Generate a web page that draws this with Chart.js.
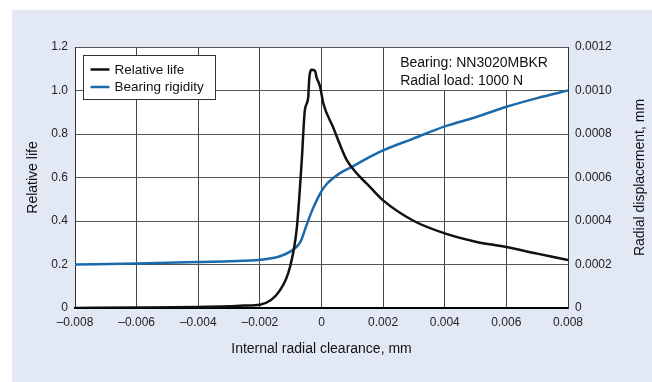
<!DOCTYPE html>
<html><head><meta charset="utf-8">
<script src="https://cdn.jsdelivr.net/npm/chart.js@4/dist/chart.umd.min.js"></script>
<style>html,body{margin:0;padding:0;background:#fff;overflow:hidden;}</style>
</head><body>
<canvas id="c" width="652" height="382"></canvas>
<script>
// ---- data ----
const lifeX = [-0.008, -0.006, -0.004, -0.003, -0.0025, -0.002, -0.00135, -0.00102, -0.0008, -0.00064, -0.00054, -0.00043, -0.0004, -0.00032, -0.00021, -0.00016, -0.00005, 0.00006, 0.00038, 0.00066, 0.00082, 0.00114, 0.00157, 0.002, 0.003, 0.004, 0.005, 0.006, 0.007, 0.008];
const lifeY = [0.0, 0.002, 0.005, 0.008, 0.011, 0.015, 0.081, 0.19, 0.37, 0.68, 0.91, 0.97, 1.05, 1.095, 1.09, 1.06, 1.02, 0.94, 0.83, 0.73, 0.68, 0.62, 0.557, 0.495, 0.40, 0.343, 0.305, 0.28, 0.25, 0.22];
const rigidityX = [-0.008, -0.006, -0.004, -0.003, -0.002, -0.00135, -0.00086, -0.00068, -0.0005, -0.0003, -0.00012, 0.0, 0.00017, 0.0006, 0.001, 0.00157, 0.002, 0.003, 0.004, 0.005, 0.006, 0.007, 0.008];
const rigidityY = [0.000200, 0.000205, 0.000211, 0.000215, 0.000222, 0.000238, 0.000275, 0.000305, 0.000375, 0.00045, 0.000505, 0.000537, 0.00057, 0.00062, 0.00065, 0.000695, 0.000725, 0.00078, 0.000835, 0.000877, 0.000925, 0.000965, 0.0010];
const seriesNames = ['Relative life', 'Bearing rigidity'];
const xTickLabels = ['\u20130.008', '\u20130.006', '\u20130.004', '\u20130.002', '0', '0.002', '0.004', '0.006', '0.008'];
const leftTickLabels = ['0', '0.2', '0.4', '0.6', '0.8', '1.0', '1.2'];
const rightTickLabels = ['0', '0.0002', '0.0004', '0.0006', '0.0008', '0.0010', '0.0012'];
const xTitle = 'Internal radial clearance, mm';
const leftTitle = 'Relative life';
const rightTitle = 'Radial displacement, mm';
const noteLines = ['Bearing: NN3020MBKR', 'Radial load: 1000 N'];

const FONT = '"Liberation Sans", Arial, Helvetica, sans-serif';
Chart.defaults.font.family = FONT;
Chart.defaults.color = '#222';

const bgPlugin = {
  id: 'bg',
  beforeDraw(chart) {
    const {ctx, chartArea: a} = chart;
    ctx.save();
    ctx.fillStyle = '#ffffff';
    ctx.fillRect(0, 0, chart.width, chart.height);
    ctx.fillStyle = '#e2e9f5';
    ctx.fillRect(12, 10, chart.width - 12, chart.height - 10);
    ctx.fillStyle = '#ffffff';
    ctx.fillRect(a.left, a.top, a.right - a.left, a.bottom - a.top);
    ctx.restore();
  }
};

const boxPlugin = {
  id: 'boxes',
  beforeDatasetsDraw(chart) {
    const {ctx, chartArea: a} = chart;
    const x = chart.scales.x, y = chart.scales.y;
    const x0 = x.getPixelForValue(0.002);
    const y1 = y.getPixelForValue(1.0);
    ctx.save();
    // note cell (hides the grid above 1.0 right of 0.002)
    ctx.fillStyle = '#ffffff';
    ctx.fillRect(x0 + 1, a.top + 1, a.right - x0 - 2, y1 - a.top - 1.5);
    ctx.fillStyle = '#111';
    ctx.font = '14px ' + FONT;
    ctx.textBaseline = 'middle';
    ctx.textAlign = 'left';
    noteLines.forEach((t, i) => ctx.fillText(t, x0 + 17, a.top + 16 + i * 18));
    // legend box
    const lx = Math.round(a.left + 8) + 0.5, ly = Math.round(a.top + 8) + 0.5, lw = 132, lh = 44;
    ctx.fillStyle = '#ffffff';
    ctx.fillRect(lx, ly, lw, lh);
    ctx.strokeStyle = '#333';
    ctx.lineWidth = 1;
    ctx.strokeRect(lx, ly, lw, lh);
    chart.data.datasets.forEach((ds, i) => {
      const yy = ly + 14 + i * 17.5;
      ctx.strokeStyle = ds.borderColor;
      ctx.lineWidth = 2.5;
      ctx.beginPath();
      ctx.moveTo(lx + 7, yy);
      ctx.lineTo(lx + 26, yy);
      ctx.stroke();
      ctx.fillStyle = '#111';
      ctx.font = '13.5px ' + FONT;
      ctx.fillText(ds.label, lx + 31, yy + 0.5);
    });
    ctx.restore();
  },
  afterDraw(chart) {
    // right axis title, reading bottom-to-top as in the reference
    const {ctx, chartArea: a} = chart;
    ctx.save();
    ctx.translate(640, (a.top + a.bottom) / 2);
    ctx.rotate(-Math.PI / 2);
    ctx.fillStyle = '#111';
    ctx.font = '14px ' + FONT;
    ctx.textAlign = 'center';
    ctx.textBaseline = 'middle';
    ctx.fillText(rightTitle, 0, 0);
    ctx.restore();
  }
};

new Chart(document.getElementById('c'), {
  type: 'line',
  data: {
    datasets: [
      {
        label: seriesNames[0],
        data: lifeX.map((v, i) => ({x: v, y: lifeY[i]})),
        borderColor: '#111111',
        borderWidth: 2.5,
        pointRadius: 0,
        cubicInterpolationMode: 'monotone',
        yAxisID: 'y'
      },
      {
        label: seriesNames[1],
        data: rigidityX.map((v, i) => ({x: v, y: rigidityY[i]})),
        borderColor: '#1b6aac',
        borderWidth: 2.5,
        pointRadius: 0,
        cubicInterpolationMode: 'monotone',
        yAxisID: 'y1'
      }
    ]
  },
  options: {
    responsive: false,
    animation: false,
    devicePixelRatio: 1,
    layout: {padding: {top: 47, left: 0, right: 0, bottom: 0}},
    plugins: {legend: {display: false}, tooltip: {enabled: false}},
    scales: {
      x: {
        type: 'linear', min: -0.008, max: 0.008,
        ticks: {stepSize: 0.002, padding: 7, color: '#222', font: {size: 12}, maxRotation: 0,
                callback: (v, i) => xTickLabels[i]},
        grid: {color: '#444', lineWidth: 1, drawTicks: false},
        border: {display: true, color: '#000', width: 2},
        title: {display: true, text: xTitle, color: '#111', font: {size: 14}, padding: {top: 0, bottom: 24}},
        afterFit(s) { s.height = 74; }
      },
      y: {
        position: 'left', min: 0, max: 1.2,
        ticks: {stepSize: 0.2, padding: 7, color: '#222', font: {size: 12},
                callback: (v, i) => leftTickLabels[i]},
        grid: {color: '#555', lineWidth: 1, drawTicks: false},
        border: {display: true, color: '#333', width: 1},
        title: {display: true, text: leftTitle, color: '#111', font: {size: 14}, padding: {top: 25, bottom: 0}},
        afterFit(s) { s.width = 75; }
      },
      y1: {
        position: 'right', min: 0, max: 0.0012,
        ticks: {stepSize: 0.0002, padding: 7, color: '#222', font: {size: 12},
                callback: (v, i) => rightTickLabels[i]},
        grid: {drawOnChartArea: false, drawTicks: false},
        border: {display: true, color: '#333', width: 1},
        title: {display: false, text: rightTitle},
        afterFit(s) { s.width = 84; }
      }
    }
  },
  plugins: [bgPlugin, boxPlugin]
});
</script>
</body></html>
